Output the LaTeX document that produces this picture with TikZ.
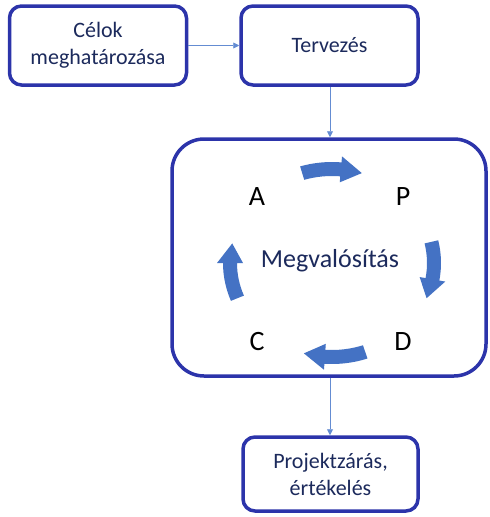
\documentclass[tikz,border=0pt]{standalone}
\usepackage{fontspec}
\setmainfont{Carlito}
\usetikzlibrary{arrows.meta}
\definecolor{boxline}{RGB}{44,52,170}
\definecolor{txtblue}{RGB}{28,42,92}
\definecolor{arrowblue}{RGB}{68,114,196}
\definecolor{connblue}{RGB}{100,140,210}
\newcommand\cycarrow[2]{%
  \pgfmathsetmacro\hh{#2+12}%
  \fill[arrowblue] (#1:109 and 101) arc[start angle=#1, end angle=\hh, x radius=109, y radius=101]
    -- (\hh:115 and 107) -- (#2:102 and 94) -- (\hh:89 and 81) -- (\hh:95 and 87)
    arc[start angle=\hh, end angle=#1, x radius=95, y radius=87] -- cycle;}
\begin{document}
\begin{tikzpicture}[x=1pt,y=-1pt,
  box/.style={draw=boxline, line width=3.5pt, rounded corners=12pt, fill=white,
    text=txtblue, font=\fontsize{22}{27}\selectfont, align=center, inner sep=0pt},
  conn/.style={draw=connblue, line width=0.9pt, -{Triangle[length=6pt,width=6pt]}},
  letter/.style={font=\fontsize{28}{32}\selectfont, text=black, inner sep=0pt}]
\useasboundingbox (0,0) rectangle (490,517);
\node[box, minimum width=177pt, minimum height=79pt] (goal) at (98,45.5) {Célok\\meghatározása};
\node[box, minimum width=177pt, minimum height=79pt] (plan) at (329.5,45.5) {Tervezés};
\node[box, rounded corners=32pt, minimum width=314pt, minimum height=237pt] (big) at (329,257.5) {};
\node[box, minimum width=175pt, minimum height=74pt] (close) at (330.5,474) {Projektzárás,\\értékelés};
\draw[conn] (goal.east) -- (plan.west);
\draw[conn] (plan.south -| 330,0) -- (big.north -| 330,0);
\draw[conn] (big.south -| 330,0) -- (close.north -| 330,0);
\node[letter] (A) at (257,197) {A};
\node[letter] (P) at (403,197) {P};
\node[letter] (C) at (257,342) {C};
\node[letter] (D) at (403,342) {D};
\node[font=\fontsize{26}{30}\selectfont, text=txtblue, inner sep=0pt] (M) at (330,261) {Megvalósítás};
\begin{scope}[shift={(332,263)}, y=1pt]
  \cycarrow{107}{73}
  \cycarrow{13}{-22}
  \cycarrow{-71}{-106}
  \cycarrow{202}{168}
\end{scope}
\end{tikzpicture}
\end{document}
